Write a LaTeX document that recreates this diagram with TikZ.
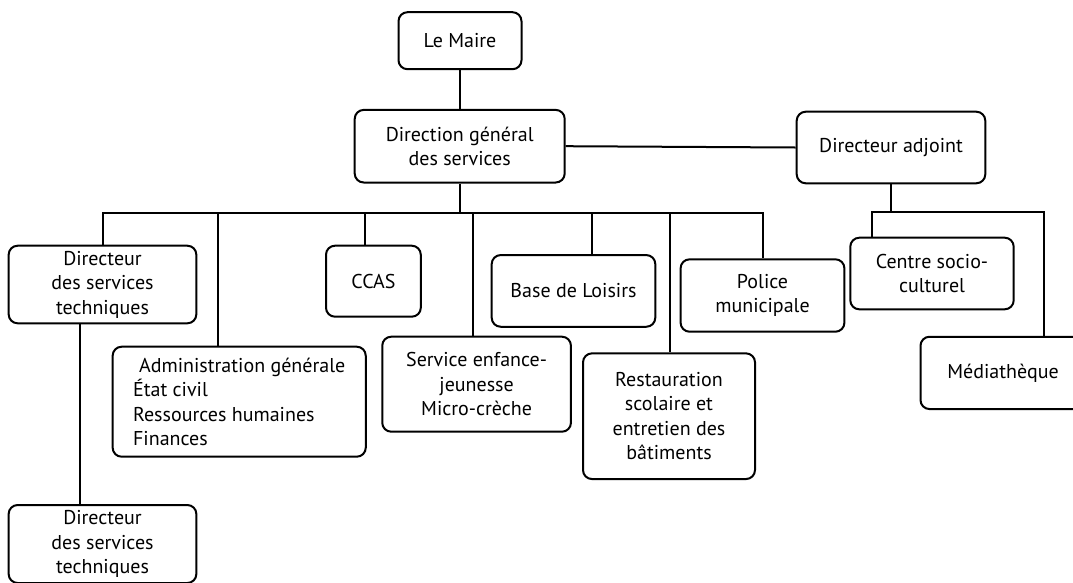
\documentclass[tikz,border=0pt]{standalone}
\usepackage{fontspec}
\setmainfont{PT Sans}
\begin{document}
\begin{tikzpicture}[x=1pt,y=-1pt,
  box/.style={draw, line width=2pt, rounded corners=9pt, align=center, inner sep=0pt,
    font=\fontsize{20}{24.5}\selectfont},
  link/.style={line width=2pt}]
\useasboundingbox (0,0) rectangle (1073,582);
\clip (0,0) rectangle (1073,582);
% nodes
\node[box, minimum width=123pt, minimum height=57pt] (maire) at (460,40.7) {Le Maire};
\node[box, minimum width=210pt, minimum height=72.6pt] (dgs) at (459.7,146.2) {Direction général\\des services};
\node[box, minimum width=188.6pt, minimum height=71.6pt] (adj) at (891,147.5) {Directeur adjoint};
\node[box, minimum width=187.7pt, minimum height=77.6pt] (dst1) at (102.5,284.5) {Directeur\\des services\\techniques};
\node[box, minimum width=94.8pt, minimum height=71pt] (ccas) at (373.4,281.2) {CCAS};
\node[box, minimum width=163.6pt, minimum height=71.7pt] (bdl) at (573.5,290.9) {Base de Loisirs};
\node[box, minimum width=163.8pt, minimum height=72.4pt] (police) at (762.5,295.5) {Police\\municipale};
\node[box, minimum width=163.4pt, minimum height=71.6pt] (csc) at (932,273.5) {Centre socio-\\culturel};
\node[box, align=left, minimum width=253.1pt, minimum height=110pt] (admin) at (239.2,401.7) {\hspace{0.3em}Administration générale\\État civil\\Ressources humaines\\Finances};
\node[box, minimum width=188.7pt, minimum height=95pt] (sej) at (476.6,384.2) {Service enfance-\\jeunesse\\Micro-crèche};
\node[box, minimum width=172pt, minimum height=125.7pt] (resto) at (669,416.2) {Restauration\\scolaire et\\entretien des\\bâtiments};
\node[box, minimum width=165pt, minimum height=72.3pt] (media) at (1003,372.9) {Médiathèque};
\node[box, minimum width=187.7pt, minimum height=78pt] (dst2) at (102.5,544) {Directeur\\des services\\techniques};
% bus coordinates
\coordinate (b1) at (103,213);
\coordinate (bA) at (218,213);
\coordinate (bC) at (365,213);
\coordinate (bS) at (473,213);
\coordinate (bB) at (592,213);
\coordinate (bR) at (670,213);
\coordinate (bP) at (763,213);
\coordinate (cL) at (872,212);
\coordinate (cR) at (1044,212);
\coordinate (vx) at (80,0);
% connectors
\draw[link] (maire.south) -- (dgs.north -| maire.south);
\draw[link] (dgs.east) -- (adj.west);
\draw[link] (dgs.south) -- (dgs.south |- b1);
\draw[link] (dst1.north -| b1) -- (b1) -- (bP) -- (police.north -| bP);
\draw[link] (bA) -- (admin.north -| bA);
\draw[link] (bC) -- (ccas.north -| bC);
\draw[link] (bS) -- (sej.north -| bS);
\draw[link] (bB) -- (bdl.north -| bB);
\draw[link] (bR) -- (resto.north -| bR);
\draw[link] (adj.south) -- (adj.south |- cL);
\draw[link] (csc.north -| cL) -- (cL) -- (cR) -- (media.north -| cR);
\draw[link] (dst1.south -| vx) -- (dst2.north -| vx);
\end{tikzpicture}
\end{document}
